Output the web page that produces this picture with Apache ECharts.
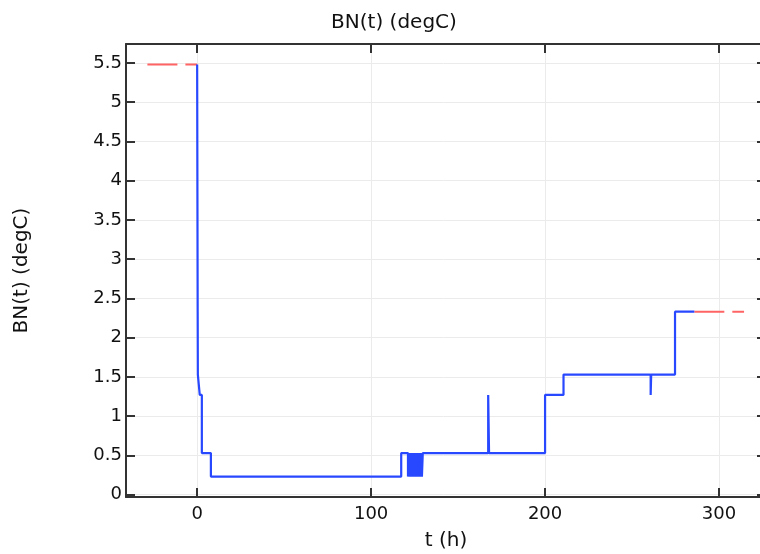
<!DOCTYPE html>
<html>
<head>
<meta charset="utf-8">
<script src="https://cdn.jsdelivr.net/npm/echarts@6/dist/echarts.min.js"></script>
<style>html,body{margin:0;padding:0;background:#fff}#c{width:760px;height:554px}</style>
</head>
<body>
<div id="c"></div>
<script>
// ---- data ----
var titleText = 'BN(t) (degC)';
var xName = 't (h)';
var yName = 'BN(t) (degC)';
var xTicks = [0, 100, 200, 300];
var yTicks = [0, 0.5, 1, 1.5, 2, 2.5, 3, 3.5, 4, 4.5, 5, 5.5];

var tBlue = [0, 0.3, 0.4, 0.4, 1.5, 1.5, 2.7, 2.7, 7.9, 7.9, 117.3, 117.3, 121.2,
  121.2, 121.7, 121.7, 122.2, 122.2, 122.7, 122.7, 123.2, 123.2, 123.7, 123.7, 124.2,
  124.2, 124.7, 124.7, 125.2, 125.2, 125.7, 125.7, 126.2, 126.2, 126.7, 126.7, 127.2,
  127.2, 127.7, 127.7, 128.2, 128.2, 128.7, 128.7, 129.2, 129.2, 129.7, 129.7,
  167.3, 167.3, 167.8, 167.8, 200, 200, 210.6, 210.6, 260.7, 260.7, 261.0, 261.0,
  274.7, 274.7, 285.8];
var vBlue = [5.48, 2.33, 2.33, 1.53, 1.53, 1.27, 1.27, 0.53, 0.53, 0.23, 0.23, 0.53, 0.53,
  0.23, 0.23, 0.53, 0.53, 0.23, 0.23, 0.53, 0.53, 0.23, 0.23, 0.53, 0.53,
  0.23, 0.23, 0.53, 0.53, 0.23, 0.23, 0.53, 0.53, 0.23, 0.23, 0.53, 0.53,
  0.23, 0.23, 0.53, 0.53, 0.23, 0.23, 0.53, 0.53, 0.23, 0.23, 0.53,
  0.53, 1.27, 1.27, 0.53, 0.53, 1.27, 1.27, 1.53, 1.53, 1.27, 1.27, 1.53,
  1.53, 2.33, 2.33];

var tRedLeft = [-28.6, 0];
var vRedLeft = [5.48, 5.48];
var tRedRight = [285.8, 314.4];
var vRedRight = [2.33, 2.33];

function pairs(t, v) { return t.map(function (x, i) { return [x, v[i]]; }); }

var FONT = 'DejaVu Sans';
var AX = '#333';

var chart = echarts.init(document.getElementById('c'), null, { renderer: 'canvas' });
var xMin = -40.9, xMax = 327, yMin = -0.03, yMax = 5.74;

function xAx(pos, showLabel) {
  return {
    type: 'value', position: pos, min: xMin, max: xMax,
    name: showLabel ? xName : '', nameLocation: 'middle', nameGap: 34,
    nameTextStyle: { fontFamily: FONT, fontSize: 20, color: '#111' },
    axisLine: { show: true, onZero: false, lineStyle: { color: AX, width: 2 } },
    axisTick: { show: true, inside: true, length: 9, customValues: xTicks, lineStyle: { color: AX, width: 2 } },
    axisLabel: { show: showLabel, customValues: xTicks, margin: 8, fontFamily: FONT, fontSize: 18, color: '#111' },
    splitLine: { show: showLabel, lineStyle: { color: '#ebebeb', width: 1 } }
  };
}
function yAx(pos, showLabel) {
  return {
    type: 'value', position: pos, min: yMin, max: yMax,
    name: showLabel ? yName : '', nameLocation: 'middle', nameGap: 94, nameRotate: 90,
    nameTextStyle: { fontFamily: FONT, fontSize: 20, color: '#111' },
    axisLine: { show: true, onZero: false, lineStyle: { color: AX, width: 2 } },
    axisTick: { show: true, inside: true, length: 9, customValues: yTicks, lineStyle: { color: AX, width: 2 } },
    axisLabel: { show: showLabel, customValues: yTicks, margin: 4, fontFamily: FONT, fontSize: 18, color: '#111' },
    splitLine: { show: showLabel, lineStyle: { color: '#ebebeb', width: 1 } }
  };
}

chart.setOption({
  animation: false,
  backgroundColor: '#fff',
  title: {
    text: titleText, left: 389, top: 8, textAlign: 'center',
    textStyle: { fontFamily: FONT, fontSize: 20, fontWeight: 'normal', color: '#111' }
  },
  grid: { left: 126, width: 640, top: 44, bottom: 57, containLabel: false, outerBoundsMode: 'none' },
  xAxis: [xAx('bottom', true), xAx('top', false)],
  yAxis: [yAx('left', true), yAx('right', false)],
  series: [
    {
      type: 'line', xAxisIndex: 0, yAxisIndex: 0, data: pairs(tBlue, vBlue),
      showSymbol: false, symbol: 'none', lineStyle: { color: '#2848ff', width: 2.2 }, z: 3
    },
    {
      type: 'line', xAxisIndex: 0, yAxisIndex: 0, data: pairs(tRedLeft, vRedLeft),
      showSymbol: false, symbol: 'none', lineStyle: { color: '#ff6464', width: 2, type: [30, 8] }, z: 2
    },
    {
      type: 'line', xAxisIndex: 0, yAxisIndex: 0, data: pairs(tRedRight, vRedRight),
      showSymbol: false, symbol: 'none', lineStyle: { color: '#ff6464', width: 2, type: [30, 8] }, z: 2
    }
  ]
});
</script>
</body>
</html>
